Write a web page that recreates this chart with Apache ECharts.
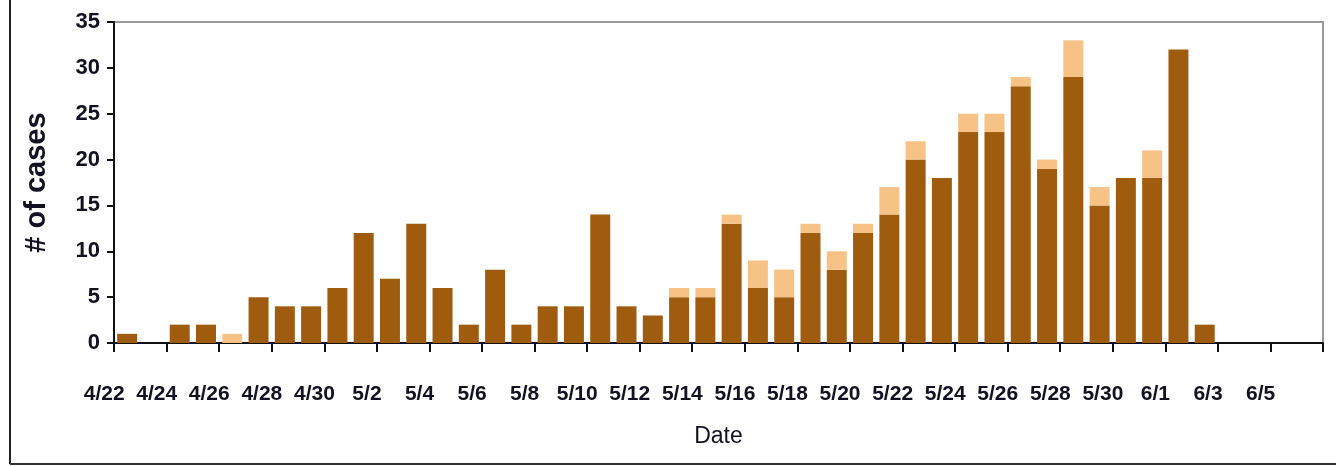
<!DOCTYPE html>
<html>
<head>
<meta charset="utf-8">
<script src="https://cdn.jsdelivr.net/npm/echarts@6/dist/echarts.min.js"></script>
<style>
html,body{margin:0;padding:0;background:#fff;}
#chart{width:1336px;height:466px;}
</style>
</head>
<body>
<div id="chart"></div>
<script>
var categories = ['4/22','4/23','4/24','4/25','4/26','4/27','4/28','4/29','4/30','5/1',
  '5/2','5/3','5/4','5/5','5/6','5/7','5/8','5/9','5/10','5/11',
  '5/12','5/13','5/14','5/15','5/16','5/17','5/18','5/19','5/20','5/21',
  '5/22','5/23','5/24','5/25','5/26','5/27','5/28','5/29','5/30','5/31',
  '6/1','6/2','6/3','6/4','6/5','6/6'];
var confirmed = [1,0,2,2,0,5,4,4,6,12,
  7,13,6,2,8,2,4,4,14,4,
  3,5,5,13,6,5,12,8,12,14,
  20,18,23,23,28,19,29,15,18,18,
  32,2,0,0,0,0];
var probable = [0,0,0,0,1,0,0,0,0,0,
  0,0,0,0,0,0,0,0,0,0,
  0,1,1,1,3,3,1,2,1,3,
  2,0,2,2,1,1,4,2,0,3,
  0,0,0,0,0,0];
var yTicks = [0,5,10,15,20,25,30,35];

var chart = echarts.init(document.getElementById('chart'), null, {renderer:'canvas'});
var labelFont = {fontFamily:'"Liberation Sans Narrow","Liberation Sans",Arial,sans-serif', fontWeight:'bold', color:'#111122'};
chart.setOption({
  animation:false,
  backgroundColor:'#ffffff',
  grid:{left:114,right:13,top:22,bottom:123,show:true,borderColor:'#9a9a9a',borderWidth:2,backgroundColor:'transparent'},
  xAxis:{
    type:'category',
    data:categories,
    boundaryGap:true,
    name:'Date',
    nameLocation:'middle',
    nameGap:82,
    nameTextStyle:{fontFamily:'"Liberation Sans",Arial,sans-serif',fontSize:23,color:'#111122'},
    axisLine:{lineStyle:{color:'#111111',width:2}},
    axisTick:{show:true,interval:1,length:9,inside:false,lineStyle:{color:'#111111',width:2}},
    axisLabel:Object.assign({interval:1,fontSize:21,margin:41,padding:[0,46,0,0],align:'center'},labelFont),
    splitLine:{show:false}
  },
  yAxis:{
    type:'value',
    min:yTicks[0],
    max:yTicks[yTicks.length-1],
    interval:5,
    name:'# of cases',
    nameLocation:'middle',
    nameGap:63,
    nameRotate:90,
    nameTextStyle:{fontFamily:'"Liberation Sans",Arial,sans-serif',fontWeight:'bold',fontSize:29,color:'#111122'},
    axisLine:{show:true,lineStyle:{color:'#111111',width:2}},
    axisTick:{show:true,length:7,lineStyle:{color:'#111111',width:2}},
    axisLabel:Object.assign({fontSize:22,margin:14},labelFont),
    splitLine:{show:false}
  },
  series:[
    {name:'Confirmed',type:'bar',stack:'cases',data:confirmed,barCategoryGap:'24%',
     itemStyle:{color:'#A05C0E'}},
    {name:'Probable',type:'bar',stack:'cases',data:probable,barCategoryGap:'24%',
     itemStyle:{color:'#F6C285'}}
  ],
  graphic:[
    {type:'line',shape:{x1:10,y1:0,x2:10,y2:464},style:{stroke:'#222',lineWidth:2}},
    {type:'line',shape:{x1:10,y1:464,x2:1336,y2:464},style:{stroke:'#333',lineWidth:2}}
  ]
});
</script>
</body>
</html>
